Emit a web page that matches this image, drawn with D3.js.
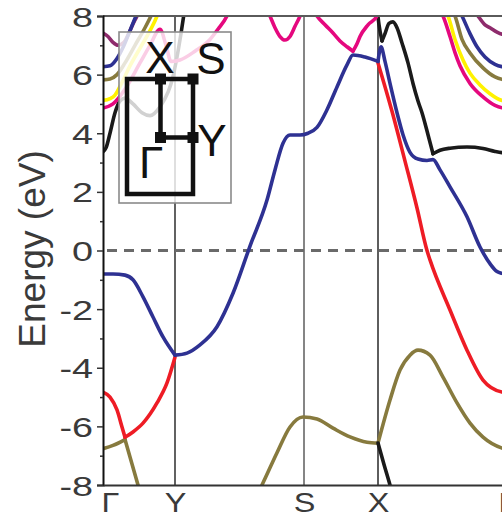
<!DOCTYPE html>
<html>
<head>
<meta charset="utf-8">
<script src="https://cdn.jsdelivr.net/npm/d3@7"></script>
<style>
  html, body { margin: 0; padding: 0; background: #fff; }
  svg { display: block; font-family: "Liberation Sans", Arial, Helvetica, sans-serif; }
</style>
</head>
<body>
<svg id="chart" width="502" height="524"></svg>
<script>
// High-symmetry points along the k-path (path length units)
const kPoints = [0, 0.72, 2.01, 2.75, 4.04];
const kLabels = ["Γ", "Y", "S", "X", "Γ"];

// Energy axis ticks (eV)
const energyMajor = [-8, -6, -4, -2, 0, 2, 4, 6, 8];
const energyMinor = [-7, -5, -3, -1, 1, 3, 5, 7];

// Band segments: [k, E (eV)]
const blueGY = [[0, -0.80], [0.10, -0.80], [0.22, -0.84], [0.30, -1.00], [0.40, -1.58], [0.50, -2.27], [0.60, -2.95], [0.72, -3.57]];
const blueYX = [[0.72, -3.57], [0.84, -3.50], [0.97, -3.22], [1.14, -2.60], [1.30, -1.46], [1.47, 0.15], [1.64, 1.72], [1.72, 2.75], [1.80, 3.66], [1.87, 3.94], [1.97, 3.94], [2.05, 4.00], [2.14, 4.20], [2.24, 4.80], [2.34, 5.58], [2.44, 6.33], [2.50, 6.67], [2.62, 6.60], [2.75, 6.45]];
const blueXG = [[2.75, 6.45], [2.78, 6.95], [2.82, 6.45], [2.87, 5.70], [2.94, 4.70], [3.00, 3.95], [3.07, 3.35], [3.15, 3.12], [3.24, 3.07], [3.30, 3.10], [3.37, 2.75], [3.47, 2.17], [3.64, 1.15], [3.77, 0.12], [3.87, -0.45], [3.94, -0.72], [3.99, -0.78], [4.04, -0.80]];

const redG = [[0, -4.83], [0.07, -5.00], [0.14, -5.44], [0.19, -6.02], [0.22, -6.37]];
const redY = [[0.22, -6.37], [0.30, -6.19], [0.40, -5.89], [0.54, -5.20], [0.64, -4.52], [0.72, -3.64]];
const redXG = [[2.75, 6.40], [2.89, 4.75], [3.02, 3.05], [3.14, 1.45], [3.24, 0.00], [3.27, -0.32], [3.47, -2.03], [3.64, -3.40], [3.80, -4.42], [3.99, -4.83], [4.04, -4.85]];

const oliveG = [[0, -6.76], [0.10, -6.65], [0.22, -6.45]];
const oliveGdown = [[0.22, -6.45], [0.35, -8.00], [0.40, -8.60]];
const oliveSX = [[1.47, -8.80], [1.59, -8.00], [1.74, -6.90], [1.87, -6.02], [2.00, -5.68], [2.14, -5.75], [2.30, -6.06], [2.47, -6.36], [2.64, -6.54], [2.75, -6.57]];
const oliveXG = [[2.75, -6.57], [2.87, -5.10], [2.97, -4.08], [3.07, -3.57], [3.15, -3.40], [3.27, -3.57], [3.40, -4.32], [3.54, -5.20], [3.67, -5.89], [3.80, -6.37], [3.99, -6.74], [4.04, -6.78]];

const blackGY = [[0, 3.37], [0.03, 3.50], [0.07, 4.00], [0.12, 4.70], [0.17, 5.10], [0.22, 5.20], [0.30, 5.00], [0.39, 4.70], [0.47, 4.60], [0.57, 4.90], [0.65, 5.40], [0.69, 5.80], [0.74, 6.60], [0.78, 7.40], [0.82, 8.30]];
const blackX1 = [[2.74, 8.30], [2.76, 7.70], [2.79, 7.15]];
const blackX2 = [[2.79, 7.15], [2.82, 7.40], [2.86, 7.75], [2.90, 7.80], [2.94, 7.60], [2.99, 7.08], [3.05, 6.40], [3.10, 5.70], [3.15, 5.10], [3.19, 4.70], [3.25, 3.95], [3.30, 3.30]];
const blackXG = [[3.30, 3.30], [3.37, 3.42], [3.47, 3.49], [3.64, 3.53], [3.80, 3.48], [3.92, 3.38], [3.99, 3.34], [4.04, 3.33]];
const blackLow = [[2.75, -6.57], [2.81, -7.30], [2.87, -8.00], [2.91, -8.50]];

const magentaGY = [[0, 4.86], [0.10, 5.00], [0.22, 5.50], [0.37, 6.40], [0.47, 7.00], [0.57, 7.55], [0.63, 7.00], [0.68, 6.45], [0.77, 6.50], [0.92, 6.80], [1.07, 7.20], [1.15, 7.55], [1.24, 8.00], [1.29, 8.40]];
const magentaS = [[1.62, 8.40], [1.67, 8.00], [1.72, 7.60], [1.77, 7.30], [1.82, 7.18], [1.87, 7.30], [1.92, 7.65], [1.97, 8.00], [2.01, 8.40]];
const magentaSX1 = [[2.09, 8.30], [2.14, 8.00], [2.22, 7.70], [2.30, 7.42], [2.37, 7.15], [2.44, 6.95], [2.50, 6.80]];
const magentaSX2 = [[2.50, 6.80], [2.54, 7.05], [2.57, 7.30], [2.65, 7.70], [2.74, 8.00], [2.77, 8.30]];
const magentaXG = [[3.37, 8.20], [3.40, 8.00], [3.47, 7.30], [3.52, 6.75], [3.57, 6.30], [3.67, 5.70], [3.80, 5.24], [3.92, 4.95], [3.99, 4.87], [4.04, 4.85]];

const yellowG = [[0, 5.12], [0.07, 5.18], [0.12, 5.30], [0.17, 5.60], [0.27, 6.30], [0.37, 6.90], [0.47, 7.50], [0.54, 8.00], [0.57, 8.30]];
const yellowXG = [[3.42, 8.20], [3.45, 8.00], [3.52, 7.20], [3.60, 6.50], [3.67, 6.05], [3.77, 5.65], [3.87, 5.35], [3.99, 5.12], [4.04, 5.10]];

const khakiG = [[0, 5.82], [0.07, 5.85], [0.14, 6.00], [0.22, 6.40], [0.32, 7.00], [0.42, 7.60], [0.48, 8.00], [0.52, 8.30]];
const khakiXG = [[3.49, 8.20], [3.52, 8.00], [3.59, 7.20], [3.67, 6.74], [3.80, 6.23], [3.92, 5.92], [3.99, 5.84], [4.04, 5.82]];

const navyG = [[0, 6.27], [0.07, 6.30], [0.14, 6.55], [0.21, 7.00], [0.27, 7.50], [0.33, 8.00], [0.37, 8.30]];
const navyXG = [[3.56, 8.20], [3.59, 8.00], [3.67, 7.40], [3.74, 6.95], [3.82, 6.60], [3.92, 6.35], [3.99, 6.27], [4.04, 6.25]];

const plumG = [[0, 7.42], [0.05, 7.30], [0.10, 7.10], [0.15, 7.00], [0.21, 7.10], [0.27, 7.50], [0.31, 7.80], [0.34, 8.00], [0.37, 8.30]];
const plumXG = [[3.71, 8.20], [3.75, 8.00], [3.82, 7.70], [3.87, 7.60], [3.94, 7.45], [3.99, 7.38], [4.04, 7.36]];

const bands = [
  { color: "#877a3e", segments: [oliveG, oliveGdown, oliveSX, oliveXG] },
  { color: "#1a1a1a", segments: [blackGY, blackX1, blackX2, blackXG, blackLow] },
  { color: "#ee1c25", segments: [redG, redY, redXG] },
  { color: "#2e3192", segments: [blueGY, blueYX, blueXG] },
  { color: "#8e2b6c", segments: [plumG, plumXG] },
  { color: "#2e3192", segments: [navyG, navyXG] },
  { color: "#877a3e", segments: [khakiG, khakiXG] },
  { color: "#fff200", segments: [yellowG, yellowXG] },
  { color: "#e5087e", segments: [magentaGY, magentaS, magentaSX1, magentaSX2, magentaXG] }
];

const svg = d3.select("#chart");
const plot = { left: 103, right: 507, top: 16, bottom: 485 };

const x = d3.scaleLinear().domain([kPoints[0], kPoints[kPoints.length - 1]]).range([plot.left, plot.right]);
const y = d3.scaleLinear().domain([-8, 8]).range([plot.bottom, plot.top]);

svg.append("defs").append("clipPath").attr("id", "plotClip")
  .append("rect")
  .attr("x", plot.left).attr("y", plot.top)
  .attr("width", plot.right - plot.left).attr("height", plot.bottom - plot.top);

// High-symmetry verticals
const vStyles = [null, { c: "#3a3a3a", w: 1.6 }, { c: "#858585", w: 2 }, { c: "#5e5e5e", w: 2 }, null];
svg.append("g").selectAll("line")
  .data(kPoints.map((k, i) => ({ k, s: vStyles[i] })).filter(d => d.s))
  .join("line")
  .attr("x1", d => x(d.k)).attr("x2", d => x(d.k))
  .attr("y1", y(8)).attr("y2", y(-8))
  .attr("stroke", d => d.s.c).attr("stroke-width", d => d.s.w);

// Fermi level
svg.append("line")
  .attr("x1", x(0) + 4).attr("x2", x(kPoints[4]))
  .attr("y1", y(0)).attr("y2", y(0))
  .attr("stroke", "#6a6a6a").attr("stroke-width", 3)
  .attr("stroke-dasharray", "10,7");

// Bands
const line = d3.line().x(d => x(d[0])).y(d => y(d[1])).curve(d3.curveMonotoneX);
const bandLayer = svg.append("g").attr("clip-path", "url(#plotClip)");
bands.forEach(b => {
  bandLayer.append("g").selectAll("path")
    .data(b.segments)
    .join("path")
    .attr("d", line)
    .attr("fill", "none")
    .attr("stroke", b.color)
    .attr("stroke-width", 3.6)
    .attr("stroke-linecap", "round")
    .attr("stroke-linejoin", "round");
});

// Frame: top border
svg.append("line")
  .attr("x1", plot.left).attr("x2", plot.right)
  .attr("y1", plot.top).attr("y2", plot.top)
  .attr("stroke", "#5a5a5a").attr("stroke-width", 2);

// Energy axis
const yAxis = svg.append("g").attr("transform", `translate(${plot.left},0)`)
  .call(d3.axisLeft(y).tickValues(energyMajor).tickSize(6).tickFormat(d => String(d)));
svg.append("g").attr("transform", `translate(${plot.left},0)`)
  .call(d3.axisLeft(y).tickValues(energyMinor).tickSize(3).tickFormat(""))
  .call(g => g.select(".domain").remove())
  .call(g => g.selectAll("line").attr("stroke", "#333").attr("stroke-width", 1.5));
yAxis.select(".domain").attr("stroke", "#111").attr("stroke-width", 2);
yAxis.selectAll(".tick line").attr("stroke", "#333").attr("stroke-width", 1.5);
const yStretch = 1.35;
yAxis.selectAll(".tick text")
  .attr("font-size", 28)
  .attr("fill", "#3a3a3a")
  .attr("font-family", "'Liberation Sans', Arial, sans-serif")
  .attr("transform", `scale(${yStretch},1)`)
  .attr("x", -10 / yStretch)
  .attr("dy", "0.36em");

// k-path axis
const xStretch = 1.2;
const xAxis = svg.append("g").attr("transform", `translate(0,${plot.bottom})`)
  .call(d3.axisBottom(x).tickValues(kPoints).tickSize(0).tickFormat((d, i) => kLabels[i]));
xAxis.select(".domain").attr("stroke", "#333").attr("stroke-width", 2);
xAxis.selectAll(".tick text")
  .attr("font-size", 27)
  .attr("fill", "#3a3a3a")
  .attr("font-family", "'Liberation Sans', Arial, sans-serif")
  .attr("transform", `scale(${xStretch},1)`)
  .attr("y", 27).attr("dy", 0)
  .attr("x", (d, i) => (i === 0 ? 7 : 0) / xStretch);

// Axis title
svg.append("text")
  .attr("transform", "translate(45,249) rotate(-90)")
  .attr("text-anchor", "middle")
  .attr("font-size", 37)
  .attr("fill", "#3a3a3a")
  .text("Energy (eV)");

// Brillouin zone inset
const inset = svg.append("g");
inset.append("rect")
  .attr("x", 119).attr("y", 32).attr("width", 112).attr("height", 171)
  .attr("fill", "#fff").attr("fill-opacity", 0.8)
  .attr("stroke", "#8a8a8a").attr("stroke-width", 1.6);
const bz = inset.append("g").attr("stroke", "#111").attr("stroke-width", 4.5).attr("fill", "none");
bz.append("rect").attr("x", 127).attr("y", 79).attr("width", 66).attr("height", 115);
bz.append("path").attr("d", "M160.5,79 V137.5 H193");
const bzPoints = [[160.5, 79], [193, 79], [160.5, 137.5], [193, 137.5]];
inset.append("g").selectAll("rect")
  .data(bzPoints)
  .join("rect")
  .attr("x", d => d[0] - 5.5).attr("y", d => d[1] - 5.5)
  .attr("width", 11).attr("height", 11)
  .attr("fill", "#111");
const bzLabels = [
  { t: "X", x: 160, y: 73 },
  { t: "S", x: 211, y: 74 },
  { t: "Y", x: 212, y: 156 },
  { t: "Γ", x: 151, y: 178 }
];
inset.append("g").selectAll("text")
  .data(bzLabels)
  .join("text")
  .attr("x", d => d.x).attr("y", d => d.y)
  .attr("text-anchor", "middle")
  .attr("font-size", 44)
  .attr("fill", "#111")
  .text(d => d.t);
</script>
</body>
</html>
